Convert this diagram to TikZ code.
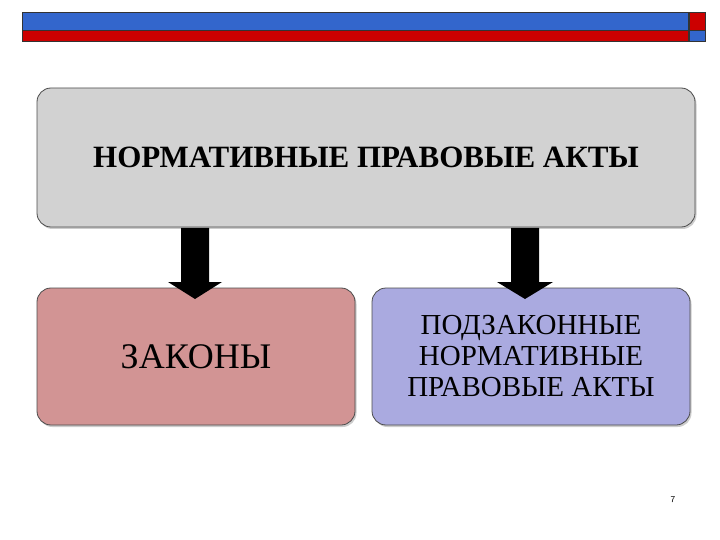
\documentclass[tikz,border=0pt]{standalone}
\usepackage{fontspec}
\setmainfont{Liberation Serif}
\usetikzlibrary{shadows}
\definecolor{bbar}{HTML}{3366CC}
\definecolor{rbar}{HTML}{CC0000}
\definecolor{gbox}{HTML}{D2D2D2}
\definecolor{rbox}{HTML}{D29494}
\definecolor{vbox}{HTML}{AAAAE0}
\tikzset{
 box/.style={draw=black!70, line width=0.8pt, rounded corners=14pt, drop shadow={opacity=0.4,shadow xshift=1.5pt,shadow yshift=-2pt}, align=center, font=\fontsize{29}{31}\selectfont, inner sep=0pt},
 bigarrow/.style={fill=black}
}
\begin{document}
\begin{tikzpicture}[x=1pt,y=-1pt]
\useasboundingbox (0,0) rectangle (720,540);
% top bars
\draw[fill=bbar, draw=black!80] (22,12) rectangle (688,30);
\draw[fill=rbar, draw=black!80] (22,30) rectangle (688,41);
\draw[fill=rbar, draw=black!80] (689,12) rectangle (705,30);
\draw[fill=bbar, draw=black!80] (689,30) rectangle (705,41);
% boxes
\node[box, fill=gbox, minimum width=658pt, minimum height=139pt, font=\bfseries\fontsize{31}{33}\selectfont] (top) at (366,157.5) {НОРМАТИВНЫЕ ПРАВОВЫЕ АКТЫ};
\node[box, fill=rbox, minimum width=318pt, minimum height=137pt, font=\fontsize{36}{38}\selectfont] (laws) at (196,356.5) {ЗАКОНЫ};
\node[box, fill=vbox, minimum width=318pt, minimum height=137pt] (sub) at (531,356.5) {ПОДЗАКОННЫЕ\\НОРМАТИВНЫЕ\\ПРАВОВЫЕ АКТЫ};
% arrows
\fill[bigarrow] (181,228) -- (209,228) -- (209,282) -- (222,282) -- (195,299) -- (168,282) -- (181,282) -- cycle;
\fill[bigarrow] (511,228) -- (539,228) -- (539,282) -- (553,282) -- (525,299) -- (497,282) -- (511,282) -- cycle;
\node[font=\sffamily\fontsize{9}{10}\selectfont] (pg) at (673,500) {7};
\end{tikzpicture}
\end{document}
